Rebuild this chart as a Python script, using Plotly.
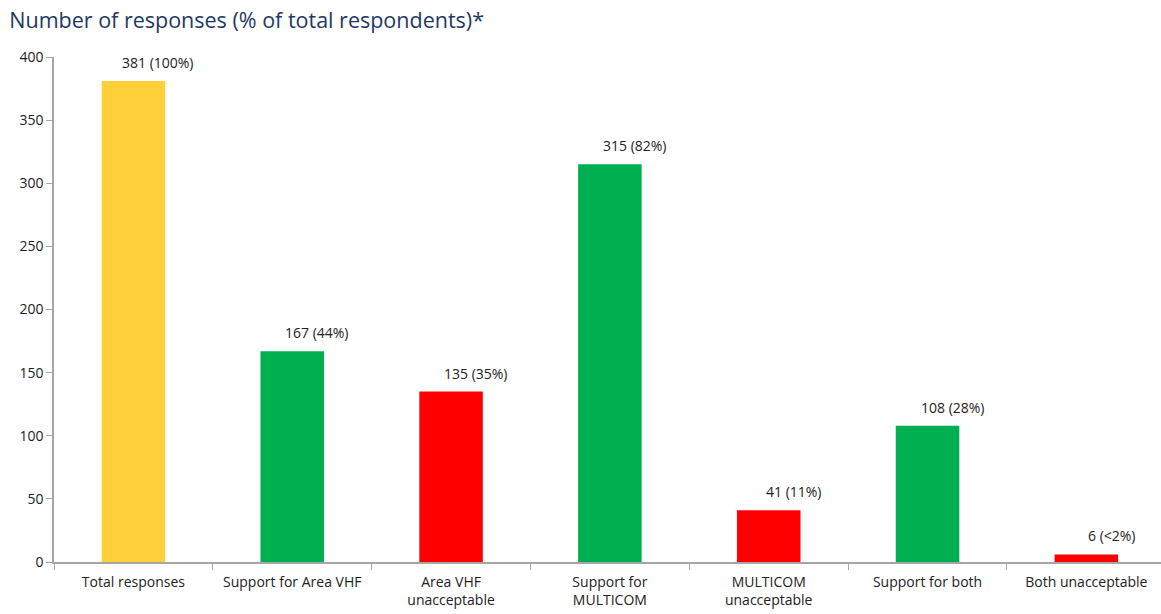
import plotly.graph_objects as go

categories = [
    "Total responses",
    "Support for Area VHF",
    "Area VHF<br>unacceptable",
    "Support for<br>MULTICOM",
    "MULTICOM<br>unacceptable",
    "Support for both",
    "Both unacceptable",
]
responses = [381, 167, 135, 315, 41, 108, 6]
share_labels = ["100%", "44%", "35%", "82%", "11%", "28%", "<2%"]
bar_colors = ["#FFD03A", "#00B050", "#FF0000", "#00B050", "#FF0000", "#00B050", "#FF0000"]

fig = go.Figure(
    go.Bar(
        x=categories,
        y=responses,
        marker=dict(color=bar_colors, line=dict(width=0)),
        hoverinfo="skip",
    )
)

# value labels above each bar, nudged to the right
for cat, val, pct in zip(categories, responses, share_labels):
    fig.add_annotation(
        x=cat, y=val, text=f"{val} ({pct})",
        showarrow=False, yanchor="bottom", xanchor="center",
        xshift=25, yshift=7,
        font=dict(family="Open Sans", size=14, color="#222222"),
    )

fig.update_layout(
    width=1161, height=614,
    margin=dict(l=54, r=0, t=57, b=52),
    paper_bgcolor="white", plot_bgcolor="white",
    bargap=0.6,
    showlegend=False,
    title=dict(
        text="Number of responses (% of total respondents)*",
        x=0.008, xref="container", xanchor="left",
        y=0.967, yref="container", yanchor="middle",
        font=dict(family="Open Sans", size=21.5, color="#1F3864"),
    ),
    font=dict(family="Open Sans", size=14, color="#222222"),
)

fig.update_xaxes(
    range=[-0.5, 6.47],
    showline=True, linecolor="#A6A6A6", linewidth=1.5,
    ticks="outside", tickson="boundaries", ticklen=6, tickcolor="#A6A6A6",
    ticklabelstandoff=6,
    showgrid=False, automargin=False,
    tickfont=dict(family="Open Sans", size=14, color="#222222"),
)
fig.update_yaxes(
    range=[0, 400], dtick=50,
    showline=True, linecolor="#A6A6A6", linewidth=1.5,
    ticks="outside", ticklen=6, tickcolor="#A6A6A6",
    showgrid=False, zeroline=False, automargin=False,
    tickfont=dict(family="Open Sans", size=14, color="#222222"),
)

fig.write_html("out.html")
